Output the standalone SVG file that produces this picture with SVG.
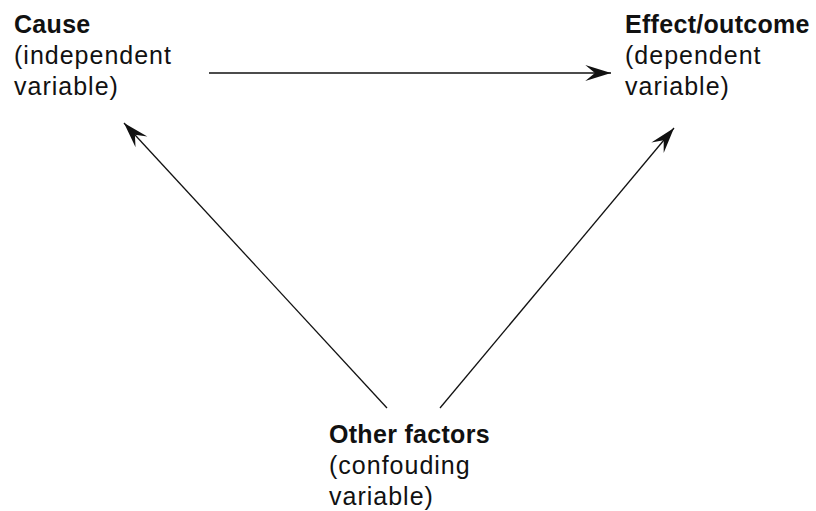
<svg xmlns="http://www.w3.org/2000/svg" width="816" height="511" viewBox="0 0 816 511">
<style>
text{font-family:"Liberation Sans",Arial,sans-serif;fill:#111}
.b{font-weight:bold;font-size:25px;letter-spacing:0.3px}
.r{font-size:25px;letter-spacing:1px}
.c{stroke:#111;stroke-width:1.3;fill:none}
</style>
<defs>
<marker id="ah" markerUnits="userSpaceOnUse" markerWidth="30" markerHeight="20" viewBox="-26 -9 28 18" refX="0" refY="0" orient="auto">
<path d="M0,0 L-24,-7.5 L-15,0 L-24,7.5 Z" fill="#111"/>
</marker>
</defs>
<g id="connectors">
<line class="c" x1="209" y1="73" x2="611" y2="73" marker-end="url(#ah)"/>
<line class="c" x1="387" y1="408" x2="124" y2="123" marker-end="url(#ah)"/>
<line class="c" x1="440" y1="408" x2="674" y2="128" marker-end="url(#ah)"/>
</g>
<g id="cause">
<text class="b" x="14" y="33">Cause</text>
<text class="r" x="14" y="64">(independent</text>
<text class="r" x="14" y="95">variable)</text>
</g>
<g id="effect">
<text class="b" x="625" y="33">Effect/outcome</text>
<text class="r" x="625" y="64">(dependent</text>
<text class="r" x="625" y="95">variable)</text>
</g>
<g id="other">
<text class="b" x="329" y="443">Other factors</text>
<text class="r" x="329" y="474">(confouding</text>
<text class="r" x="329" y="505">variable)</text>
</g>
</svg>
